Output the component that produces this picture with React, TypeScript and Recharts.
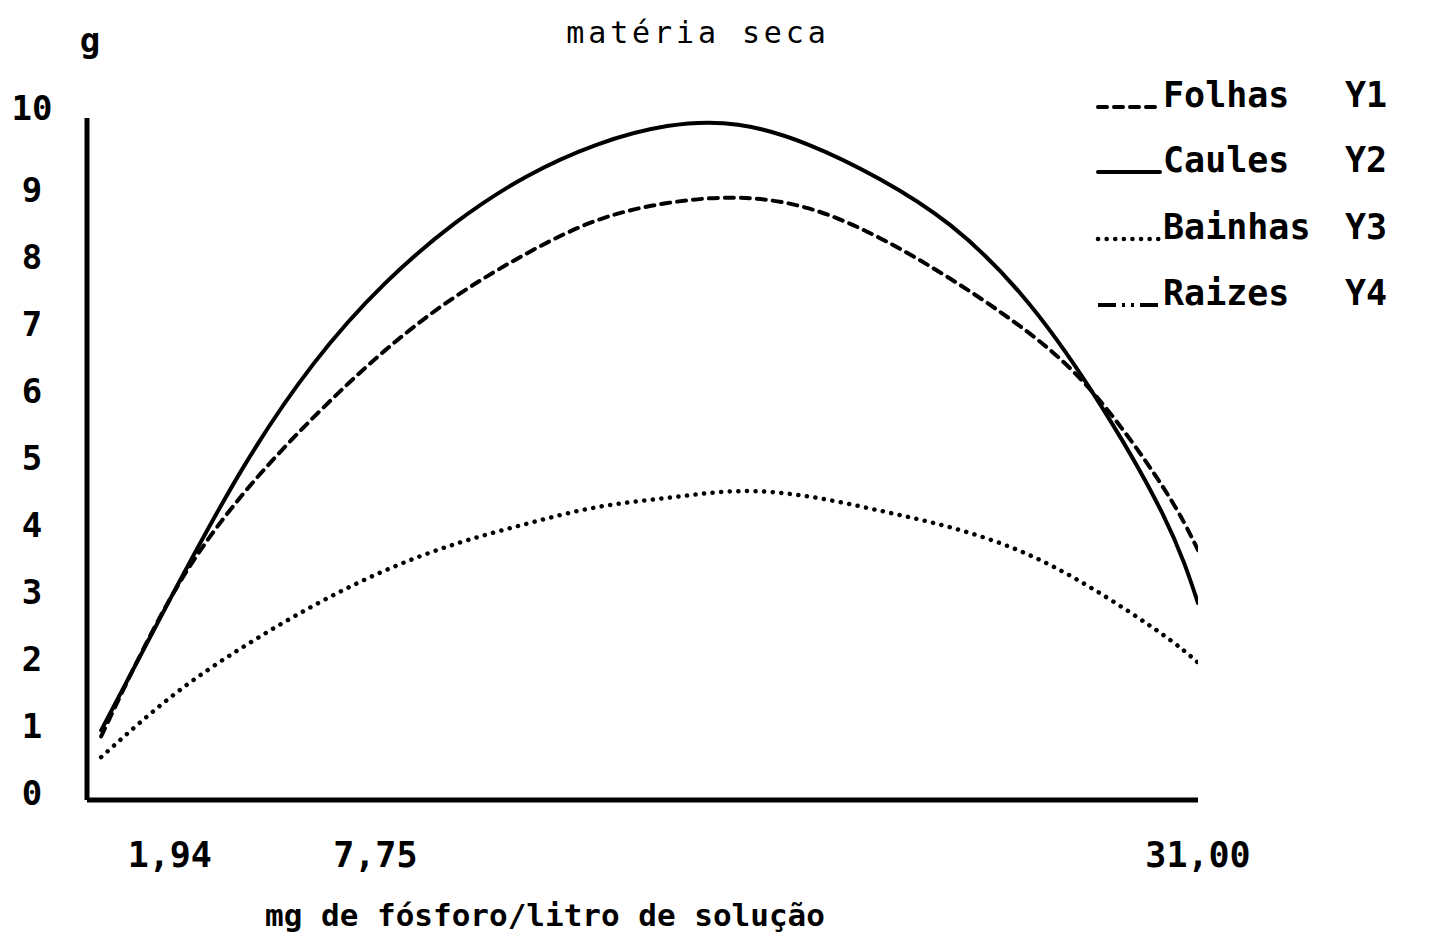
import React from "react";
import { LineChart, Line, XAxis, YAxis, Legend, Label } from "recharts";

// x: mg de fósforo/litro de solução
const doses = [0, 2, 4, 6, 8, 10, 12, 14, 16, 18, 20, 22, 24, 26, 28, 30, 31];
// g de matéria seca
const folhas = [0.95, 3.05, 4.56, 5.71, 6.7, 7.51, 8.15, 8.65, 8.91, 8.99, 8.83, 8.39, 7.78, 7.06, 6.1, 4.68, 3.73];
const caules = [1.04, 3.05, 4.95, 6.51, 7.7, 8.61, 9.3, 9.78, 10.06, 10.08, 9.78, 9.27, 8.58, 7.55, 6.1, 4.27, 2.94];
const bainhas = [0.64, 1.55, 2.28, 2.9, 3.42, 3.82, 4.12, 4.37, 4.51, 4.61, 4.53, 4.32, 4.07, 3.71, 3.16, 2.47, 2.05];
const raizes = [0, 0, 0, 0, 0, 0, 0, 0, 0, 0, 0, 0, 0, 0, 0, 0, 0];

const xTicks = [1.94, 7.75, 31];
const yTicks = [0, 1, 2, 3, 4, 5, 6, 7, 8, 9, 10];

const FONT = "'DejaVu Sans Mono', monospace";

const SERIES = [
  { key: "folhas", name: "Folhas", tag: "Y1", dash: "9 7", width: 4, cap: "round" },
  { key: "caules", name: "Caules", tag: "Y2", dash: undefined, width: 4, cap: "round" },
  { key: "bainhas", name: "Bainhas", tag: "Y3", dash: "0.1 8.5", width: 4.5, cap: "round" },
  { key: "raizes", name: "Raizes", tag: "Y4", dash: "18 6 3 6 3 6", width: 4, cap: "butt" },
];

const rows = doses.map((x, i) => ({
  x,
  folhas: folhas[i],
  caules: caules[i],
  bainhas: bainhas[i],
  raizes: raizes[i],
}));

function XTick({ x, y, payload }: any) {
  return (
    <text x={x} y={y + 59} textAnchor="middle" fontFamily={FONT} fontWeight="bold" fontSize={35} fill="#000">
      {Number(payload.value).toFixed(2).replace(".", ",")}
    </text>
  );
}

function YTick({ y, payload }: any) {
  const up = payload.value === 10 ? 22 : 7;
  return (
    <text x={32} y={y + 12 - up} textAnchor="middle" fontFamily={FONT} fontWeight="bold" fontSize={34} fill="#000">
      {payload.value}
    </text>
  );
}

function LegendBox() {
  const base = [37, 102, 169, 235];
  return (
    <svg width={345} height={260} style={{ overflow: "visible" }}>
      {SERIES.map((s, i) => (
        <g key={s.key}>
          <line
            x1={8}
            x2={70}
            y1={base[i]}
            y2={base[i]}
            stroke="#000"
            strokeWidth={s.width}
            strokeDasharray={s.dash}
            strokeLinecap={s.cap as any}
          />
          <text x={73} y={base[i]} fontFamily={FONT} fontWeight="bold" fontSize={35} fill="#000">
            {s.name}
          </text>
          <text x={255} y={base[i]} fontFamily={FONT} fontWeight="bold" fontSize={35} fill="#000">
            {s.tag}
          </text>
        </g>
      ))}
    </svg>
  );
}

export default function App() {
  return (
    <div style={{ position: "absolute", left: 0, top: 0, background: "#fff" }}>
      <LineChart width={1435} height={941} data={rows} margin={{ top: 118, right: 237, bottom: 81, left: 0 }}>
        <XAxis
          dataKey="x"
          type="number"
          domain={[-0.4, 31]}
          ticks={xTicks}
          tick={<XTick />}
          tickLine={false}
          axisLine={{ stroke: "#000", strokeWidth: 5 }}
          height={60}
          allowDataOverflow
        >
          <Label
            content={() => (
              <text x={545} y={926} textAnchor="middle" fontFamily={FONT} fontWeight="bold" fontSize={31} fill="#000">
                mg de fósforo/litro de solução
              </text>
            )}
          />
        </XAxis>
        <YAxis
          type="number"
          domain={[0, 10.18]}
          ticks={yTicks}
          tick={<YTick />}
          tickLine={false}
          axisLine={{ stroke: "#000", strokeWidth: 5 }}
          width={87}
          allowDataOverflow
        >
          <Label
            content={() => (
              <g>
                <text x={90} y={52} textAnchor="middle" fontFamily={FONT} fontWeight="bold" fontSize={34} fill="#000">
                  g
                </text>
                <text x={698} y={43} textAnchor="middle" fontFamily={FONT} fontSize={30} letterSpacing={3.9} fill="#000">
                  matéria seca
                </text>
              </g>
            )}
          />
        </YAxis>
        <Legend
          content={<LegendBox />}
          wrapperStyle={{ position: "absolute", left: 1090, top: 70, width: 0, height: 0, overflow: "visible" }}
        />
        {SERIES.map((s) => (
          <Line
            key={s.key}
            type="natural"
            dataKey={s.key}
            name={s.name}
            stroke="#000"
            strokeWidth={s.width}
            strokeDasharray={s.dash}
            strokeLinecap={s.cap as any}
            dot={false}
            activeDot={false}
            isAnimationActive={false}
          />
        ))}
      </LineChart>
    </div>
  );
}
